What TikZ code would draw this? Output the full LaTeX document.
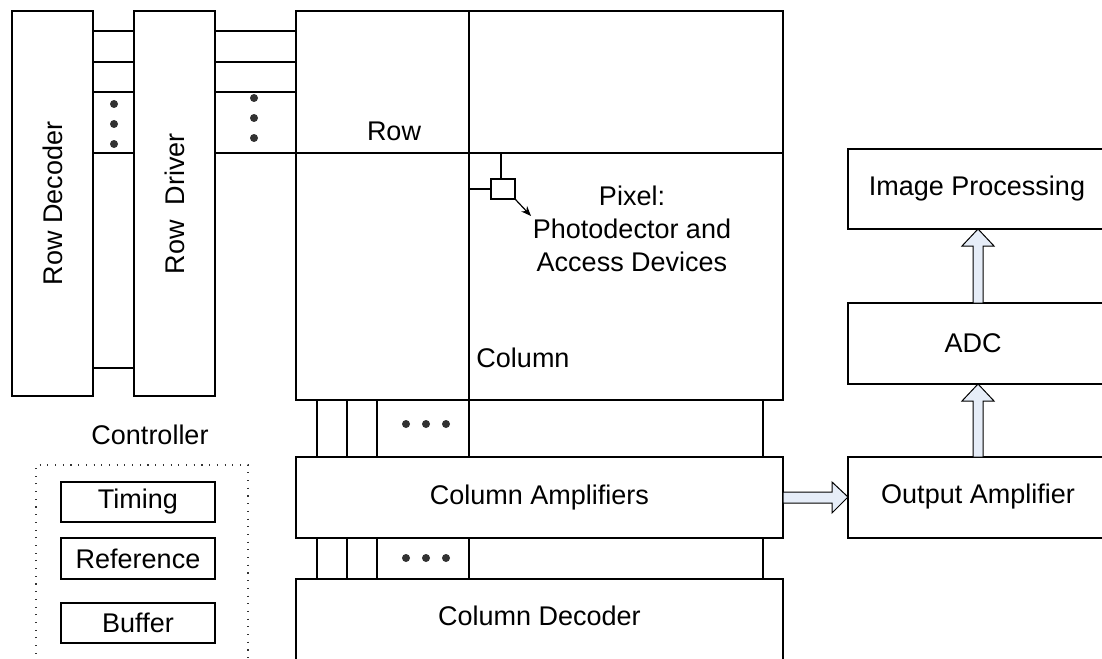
\documentclass[tikz,border=0pt]{standalone}
\usepackage{fontspec}
\setmainfont{Liberation Sans}
\usetikzlibrary{calc,arrows.meta}
\definecolor{arrowfill}{RGB}{230,237,248}
\definecolor{dotgray}{RGB}{50,50,50}
\tikzset{
  x=0.5pt, y=-0.5pt,
  every node/.style={font=\fontsize{13.5}{16}\selectfont, inner sep=0pt, outer sep=0pt},
  box/.style={draw, line width=0.8pt, inner sep=0pt, outer sep=0pt},
  wire/.style={line width=0.8pt},
  dotmark/.style={fill=dotgray, draw=none},
  blockarrow/.style={draw, fill=arrowfill, line width=0.5pt, line join=miter},
  ctrlframe/.style={line width=0.55pt, dash pattern=on 0.55pt off 3.3pt, draw=black!80},
}
\begin{document}
\begin{tikzpicture}
\useasboundingbox (0,0) rectangle (1102,658);
\clip (0,0) rectangle (1102,658);

% row decoder and row driver
\node[box, minimum width=40.5pt, minimum height=192.5pt] (rdec) at (52.5,203.5) {};
\node[rotate=90] at (rdec.center) {Row Decoder};
\node[box, minimum width=40.5pt, minimum height=192.5pt] (rdrv) at (174.5,203.5) {};
\node[rotate=90] at (rdrv.center) {Row\ \ Driver};

% pixel array
\node[box, minimum width=243.5pt, minimum height=194.5pt] (array) at (539.5,205.5) {};
\coordinate (split) at (469,0);
\draw[wire] (array.north -| split) -- (array.south -| split);
\coordinate (rowline) at (0,153);
\draw[wire] (array.west |- rowline) -- (array.east |- rowline);

% column amplifiers and column decoder
\node[box, minimum width=243.5pt, minimum height=40.5pt] (colamp) at (539.5,497.5) {Column Amplifiers};
\node[box, minimum width=243.5pt, minimum height=55pt] (coldec) at (539.5,634) {};
\node at ($(coldec.north)+(0,37)$) {Column Decoder};

% row select wires
\foreach \yy in {31,62,92,153,368}
  \draw[wire] (rdec.east |- 0,\yy) -- (rdrv.west |- 0,\yy);
\foreach \yy in {31,62,92,153}
  \draw[wire] (rdrv.east |- 0,\yy) -- (array.west |- 0,\yy);
\foreach \yy in {104,124,144}
  \fill[dotmark] (114,\yy) circle (2pt);
\foreach \yy in {98,118,138}
  \fill[dotmark] (254,\yy) circle (2pt);

% column wires
\foreach \xx in {317,347,377,469,763}{
  \draw[wire] (array.south -| \xx,0) -- (colamp.north -| \xx,0);
  \draw[wire] (colamp.south -| \xx,0) -- (coldec.north -| \xx,0);
}
\foreach \xx in {406,426,446}{
  \fill[dotmark] (\xx,424) circle (2pt);
  \fill[dotmark] (\xx,558) circle (2pt);
}

% labels inside the array
\node at (394,131) {Row};
\node at (523,358) {Column};
\node[align=center] (pixtext) at (632,229) {Pixel:\\[0.5pt]Photodector and\\[0.5pt]Access Devices};

% single pixel cell
\node[draw, line width=0.8pt, minimum width=12pt, minimum height=10pt] (pix) at (503,189) {};
\draw[wire] (pix.north) ++(-2,0) coordinate (pixtop) -- (pixtop |- rowline);
\draw[wire] (pix.west) -- (pix.west -| split);
\coordinate (pixtip) at (531,216);
\draw[line width=0.6pt, -{Stealth[length=5pt,width=4pt]}] (pix.south east) -- (pixtip);

% controller
\node at (150,435) {Controller};
\draw[ctrlframe] (36,700) -- (36,465) -- (248,465) -- (248,700);
\node[box, minimum width=77pt, minimum height=20pt] (timing) at (138,502) {Timing};
\node[box, minimum width=77pt, minimum height=20.5pt] (ref) at (138,558.5) {Reference};
\node[box, minimum width=77pt, minimum height=20pt] (buf) at (138,623) {Buffer};

% readout chain
\node[box, minimum width=130pt, minimum height=40pt] (imgp) at (978,189) {};
\node at (977,189) {Image Processing};
\node[box, minimum width=130pt, minimum height=40.5pt] (adc) at (978,343.5) {};
\node at (973,343.5) {ADC};
\node[box, minimum width=130pt, minimum height=40.5pt] (outamp) at (978,497.5) {};
\node at (978,497) {Output Amplifier};

% block arrows
\draw[blockarrow]
  ($(colamp.east)+(0,-5.5)$) -- ++(49,0) -- ++(0,-10) -- ($(outamp.west)+(0,-0.5)$)
  -- ($(colamp.east)+(49,15.5)$) -- ++(0,-10) -- ($(colamp.east)+(0,5.5)$) -- cycle;
\foreach \lo/\hi in {outamp/adc, adc/imgp}{
  \draw[blockarrow]
    ($(\lo.north)+(-5,0)$) -- ($(\hi.south)+(-5,17)$) -- ++(-11,0) -- (\hi.south)
    -- ($(\hi.south)+(16,17)$) -- ++(-11,0) -- ($(\lo.north)+(5,0)$) -- cycle;
}
\end{tikzpicture}
\end{document}
